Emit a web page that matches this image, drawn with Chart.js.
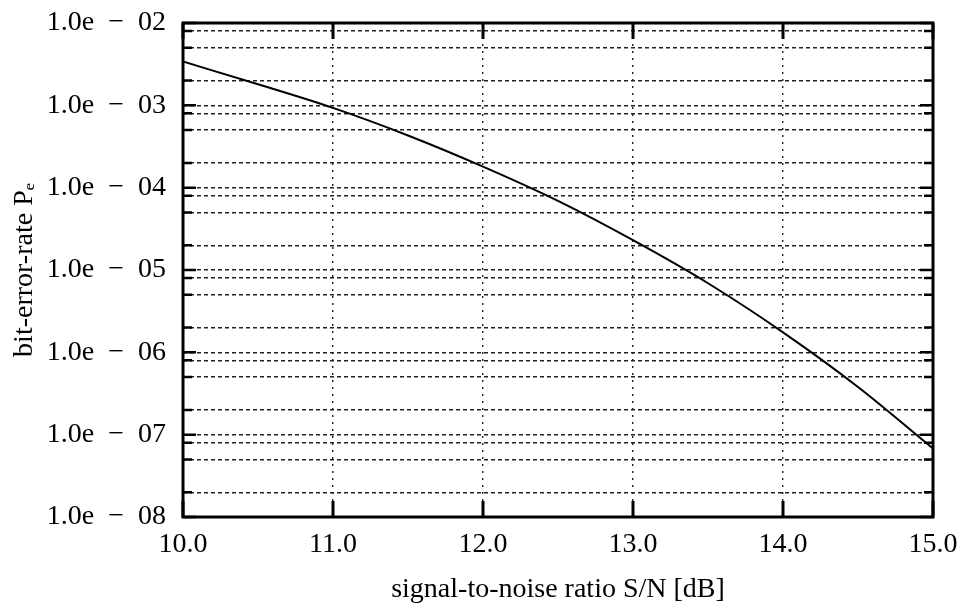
<!DOCTYPE html>
<html>
<head>
<meta charset="utf-8">
<script src="https://cdn.jsdelivr.net/npm/chart.js@4"></script>
<style>
  html, body { margin: 0; padding: 0; background: #fff; }
  #wrap { width: 963px; height: 612px; }
</style>
</head>
<body>
<div id="wrap"><canvas id="berChart" width="963" height="612"></canvas></div>
<script>
// values
const snrDb = [10.0, 10.5, 11.0, 11.5, 12.0, 12.5, 13.0, 13.5, 14.0, 14.5, 15.0];
const bitErrorRate = [3.4e-3, 1.8e-3, 9.3e-4, 4.3e-4, 1.8e-4, 6.9e-5, 2.3e-5, 6.9e-6, 1.75e-6, 3.8e-7, 6.8e-8];

// axis ticks / grid
const xTicks = [10, 11, 12, 13, 14, 15];
const decades = [-8, -7, -6, -5, -4, -3, -2];
const mantissas = [1, 2, 5, 8];

const FONT = { family: '"Liberation Serif", "Times New Roman", serif', size: 28 };

function yTickValues() {
    const vals = [];
    decades.forEach(d => {
        mantissas.forEach(m => {
            const v = m * Math.pow(10, d);
            if (v <= 1.0001e-2) vals.push(v);
        });
    });
    return vals;
}

function isDecade(v) {
    const l = Math.log10(v);
    return Math.abs(l - Math.round(l)) < 1e-6;
}

function decadeLabel(v) {
    const e = Math.round(Math.log10(v));
    const n = String(Math.abs(e)).padStart(2, '0');
    return '1.0e\u2002\u2212\u2002' + n;
}

// thick frame with inward tick marks
const framePlugin = {
    id: 'frame',
    afterDatasetsDraw(chart) {
        const { ctx, chartArea: a, scales } = chart;
        ctx.save();
        ctx.strokeStyle = '#000';
        ctx.lineCap = 'butt';

        ctx.lineWidth = 2.5;
        scales.y.ticks.forEach(t => {
            const py = scales.y.getPixelForValue(t.value);
            const len = isDecade(t.value) ? 13 : 9;
            ctx.beginPath();
            ctx.moveTo(a.left, py); ctx.lineTo(a.left + len, py);
            ctx.moveTo(a.right, py); ctx.lineTo(a.right - len, py);
            ctx.stroke();
        });

        ctx.lineWidth = 3;
        scales.x.ticks.forEach(t => {
            const px = scales.x.getPixelForValue(t.value);
            ctx.beginPath();
            ctx.moveTo(px, a.bottom); ctx.lineTo(px, a.bottom - 16);
            ctx.moveTo(px, a.top); ctx.lineTo(px, a.top + 16);
            ctx.stroke();
        });

        ctx.lineWidth = 3;
        ctx.strokeRect(a.left, a.top, a.right - a.left, a.bottom - a.top);
        ctx.restore();
    }
};

const ctx = document.getElementById('berChart');
new Chart(ctx, {
    type: 'line',
    data: {
        datasets: [{
            data: snrDb.map((x, i) => ({ x: x, y: bitErrorRate[i] })),
            borderColor: '#000',
            borderWidth: 2,
            pointRadius: 0,
            cubicInterpolationMode: 'monotone',
            fill: false
        }]
    },
    options: {
        responsive: false,
        animation: false,
        events: [],
        layout: { padding: { top: 23, right: 30, left: 0, bottom: 0 } },
        plugins: {
            legend: { display: false },
            tooltip: { enabled: false }
        },
        scales: {
            x: {
                type: 'linear',
                min: 10,
                max: 15,
                afterBuildTicks: (scale) => { scale.ticks = xTicks.map(v => ({ value: v })); },
                afterFit: (scale) => {
                    scale.height = 95;
                    scale.paddingLeft = 0;
                    scale.paddingRight = 0;
                },
                ticks: {
                    color: '#000',
                    font: FONT,
                    padding: 11,
                    maxRotation: 0,
                    autoSkip: false,
                    callback: (v) => Number(v).toFixed(1)
                },
                grid: { color: '#222', lineWidth: 1.4, drawTicks: false },
                border: { display: false, dash: [2, 5] },
                title: {
                    display: true,
                    text: 'signal-to-noise ratio S/N [dB]',
                    color: '#000',
                    font: FONT,
                    padding: { top: 0, bottom: 6 }
                }
            },
            y: {
                type: 'logarithmic',
                min: 1e-8,
                max: 1e-2,
                afterBuildTicks: (scale) => { scale.ticks = yTickValues().map(v => ({ value: v })); },
                afterFit: (scale) => {
                    scale.width = 183;
                    scale.paddingTop = 0;
                    scale.paddingBottom = 0;
                },
                ticks: {
                    color: '#000',
                    font: FONT,
                    padding: 17,
                    autoSkip: false,
                    callback: (v) => isDecade(v) ? decadeLabel(v) : ''
                },
                grid: { color: '#222', lineWidth: 1.4, drawTicks: false },
                border: { display: false, dash: [4, 3] },
                title: {
                    display: true,
                    text: 'bit-error-rate P\u2091',
                    color: '#000',
                    font: FONT,
                    padding: { top: 8, bottom: 0 }
                }
            }
        }
    },
    plugins: [framePlugin]
});
</script>
</body>
</html>
